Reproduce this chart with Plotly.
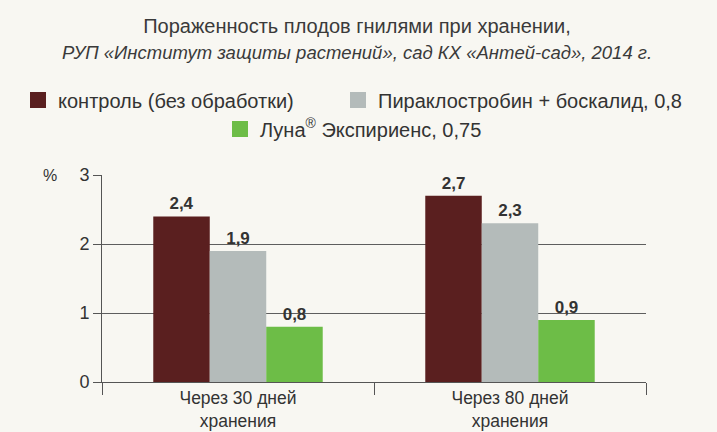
import plotly.graph_objects as go

categories = ["Через 30 дней<br>хранения", "Через 80 дней<br>хранения"]
series_names = ["контроль (без обработки)", "Пираклостробин + боскалид, 0,8", "Луна<sup>®</sup> Экспириенс, 0,75"]
control = [2.4, 2.7]
pyraclostrobin = [1.9, 2.3]
luna = [0.8, 0.9]
y_ticks = [0, 1, 2, 3]

series_values = [control, pyraclostrobin, luna]
colors = ["#5a1f1f", "#b4bbba", "#6dbd47"]
legend_ids = ["legend", "legend2", "legend3"]

BG = "#f8f7f2"
TXT = "#333333"
FONT = "Liberation Sans, Arial, sans-serif"

fig = go.Figure()
for name, vals, col in zip(series_names, series_values, colors):
    fig.add_trace(go.Bar(
        x=categories, y=vals, name=name, marker_color=col, marker_line_width=0,
        text=[f"{v:.1f}".replace(".", ",") for v in vals],
        textposition="outside", cliponaxis=False,
        textfont=dict(family=FONT, size=17, color=TXT, weight="bold"),
        showlegend=False, hoverinfo="skip",
    ))
# legend entries (square swatches)
for name, col, lid in zip(series_names, colors, legend_ids):
    fig.add_trace(go.Scatter(
        x=[None], y=[None], mode="markers", name=name,
        marker=dict(symbol="square", size=16, color=col),
        showlegend=True, legend=lid, hoverinfo="skip",
    ))

W, H = 717, 432
L, R, T, B = 102, 646, 175, 382
pw, ph = R - L, B - T
def px(x):
    return (x - L) / pw
def py(y):
    return (B - y) / ph

legend_style = dict(font=dict(family=FONT, size=20, color=TXT), bgcolor="rgba(0,0,0,0)",
                    borderwidth=0, xanchor="left", yanchor="middle", orientation="h")

fig.update_layout(
    width=W, height=H,
    margin=dict(l=L, r=W - R, t=T, b=H - B, pad=0, autoexpand=False),
    paper_bgcolor=BG, plot_bgcolor=BG,
    separators=", ",
    barmode="group", bargap=0.377, bargroupgap=0,
    font=dict(family=FONT, color=TXT),
    title=dict(
        text=("Пораженность плодов гнилями при хранении,<br>"
              "<span style='font-size:18.5px'><i>РУП «Институт защиты растений», сад КХ «Антей-сад», 2014 г.</i></span>"),
        x=357 / W, xanchor="center", xref="container",
        y=1 - 33 / H, yanchor="middle", yref="container",
        font=dict(family=FONT, size=20, color="#3a3a3a"),
    ),
    legend=dict(x=px(18), y=py(100), **legend_style),
    legend2=dict(x=px(338), y=py(100), **legend_style),
    legend3=dict(x=px(220), y=py(129), **legend_style),
    xaxis=dict(
        type="category", showgrid=False, showline=True, linecolor="#555555", linewidth=1,
        ticks="outside", tickson="boundaries", ticklen=12, tickcolor="#555555",
        tickfont=dict(family=FONT, size=17.5, color=TXT), automargin=False,
    ),
    yaxis=dict(
        range=[0, 3], tickvals=y_ticks, showgrid=True, gridcolor="#5e5e5e", gridwidth=1,
        showline=True, linecolor="#555555", linewidth=1, zeroline=False,
        ticks="outside", ticklen=8, tickcolor="#555555",
        tickfont=dict(family=FONT, size=18, color=TXT), automargin=False,
    ),
    annotations=[dict(
        text="%", xref="paper", yref="paper", x=px(50), y=py(175),
        xanchor="center", yanchor="middle", showarrow=False,
        font=dict(family=FONT, size=16, color=TXT),
    )],
)

fig.write_html("out.html", config={"displayModeBar": False},
               post_script="document.body.style.margin='0';")
